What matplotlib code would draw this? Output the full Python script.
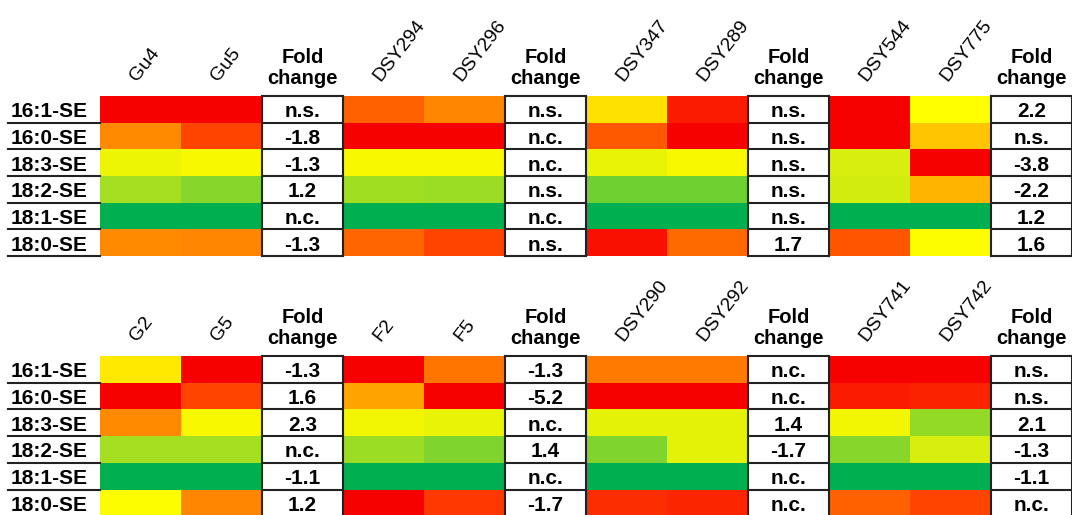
#!/usr/bin/env python3
"""
Heat map of steryl ester species per strain pair, with fold change boxes.
Two panels (top / bottom), each with 4 strain pairs.
"""

import numpy as np
import matplotlib.pyplot as plt
from matplotlib.colors import LinearSegmentedColormap

plt.rcParams['font.family'] = ['Liberation Sans', 'DejaVu Sans']

# Row labels (lipid species)
species = ['16:1-SE', '16:0-SE', '18:3-SE', '18:2-SE', '18:1-SE', '18:0-SE']

# Top panel: strain pairs, relative levels (0 = low/green, 1 = high/red)
top_pairs = [('Gu4', 'Gu5'), ('DSY294', 'DSY296'), ('DSY347', 'DSY289'), ('DSY544', 'DSY775')]
gu4 = [1.0, 0.75, 0.48, 0.32, 0.0, 0.75]
gu5 = [1.0, 0.88, 0.50, 0.25, 0.0, 0.76]
dsy294 = [0.83, 1.0, 0.50, 0.31, 0.0, 0.82]
dsy296 = [0.76, 1.0, 0.50, 0.30, 0.0, 0.88]
dsy347 = [0.60, 0.84, 0.47, 0.21, 0.0, 0.97]
dsy289 = [0.95, 1.0, 0.50, 0.21, 0.0, 0.81]
dsy544 = [1.0, 1.0, 0.43, 0.42, 0.0, 0.85]
dsy775 = [0.53, 0.65, 1.0, 0.68, 0.0, 0.52]
top_fold = [
    ['n.s.', '-1.8', '-1.3', '1.2', 'n.c.', '-1.3'],
    ['n.s.', 'n.c.', 'n.c.', 'n.s.', 'n.c.', 'n.s.'],
    ['n.s.', 'n.s.', 'n.s.', 'n.s.', 'n.s.', '1.7'],
    ['2.2', 'n.s.', '-3.8', '-2.2', '1.2', '1.6'],
]

# Bottom panel
bottom_pairs = [('G2', 'G5'), ('F2', 'F5'), ('DSY290', 'DSY292'), ('DSY741', 'DSY742')]
g2 = [0.58, 1.0, 0.75, 0.32, 0.0, 0.52]
g5 = [1.0, 0.88, 0.50, 0.32, 0.0, 0.76]
f2 = [1.0, 0.71, 0.49, 0.30, 0.0, 1.0]
f5 = [0.79, 1.0, 0.47, 0.24, 0.0, 0.90]
dsy290 = [0.78, 1.0, 0.46, 0.24, 0.0, 0.92]
dsy292 = [0.78, 1.0, 0.46, 0.46, 0.0, 0.93]
dsy741 = [1.0, 0.95, 0.49, 0.25, 0.0, 0.83]
dsy742 = [1.0, 0.94, 0.28, 0.43, 0.0, 0.88]
bottom_fold = [
    ['-1.3', '1.6', '2.3', 'n.c.', '-1.1', '1.2'],
    ['-1.3', '-5.2', 'n.c.', '1.4', 'n.c.', '-1.7'],
    ['n.c.', 'n.c.', '1.4', '-1.7', 'n.c.', 'n.c.'],
    ['n.s.', 'n.s.', '2.1', '-1.3', '-1.1', 'n.c.'],
]

top_values = [(gu4, gu5), (dsy294, dsy296), (dsy347, dsy289), (dsy544, dsy775)]
bottom_values = [(g2, g5), (f2, f5), (dsy290, dsy292), (dsy741, dsy742)]

# green -> yellow -> red
cmap = LinearSegmentedColormap.from_list('gyr', [
    (0.00, '#00b050'), (0.25, '#86d62c'), (0.40, '#c8ea14'), (0.50, '#f7f700'),
    (0.53, '#ffff00'), (0.62, '#ffd800'), (0.75, '#ff8c00'), (0.88, '#ff4500'),
    (1.00, '#f70000')])
cmap.set_bad('white')

W, H = 1072, 515
fig = plt.figure(figsize=(W / 100, H / 100), dpi=100)


def draw_panel(top_px, pairs, values, folds):
    # axes in pixel space: x 100..1072, rows 26.7 px high
    row_h = 26.7
    ax = fig.add_axes([100 / W, 1 - (top_px + 6 * row_h) / H, 972 / W, 6 * row_h / H])
    n_rows = len(species)
    grid = np.full((n_rows, 12), np.nan)
    for g, (a, b) in enumerate(values):
        grid[:, 3 * g] = a
        grid[:, 3 * g + 1] = b
    ax.pcolormesh(np.arange(13), np.arange(n_rows + 1), np.ma.masked_invalid(grid),
                  cmap=cmap, vmin=0, vmax=1)
    ax.set_xlim(0, 12)
    ax.set_ylim(n_rows, 0)
    ax.axis('off')

    lw = 1.5
    base = 0.8  # text baseline inside a row
    for g, (s1, s2) in enumerate(pairs):
        # rotated strain names
        for k, name in enumerate([s1, s2]):
            ax.text(3 * g + k + 0.5, -0.45, name, rotation=52, rotation_mode='anchor',
                    ha='left', va='bottom', fontsize=14, clip_on=False)
        xf = 3 * g + 2
        ax.text(xf + 0.5, -0.3, 'Fold\nchange', ha='center', va='bottom',
                fontsize=14.5, fontweight='bold', linespacing=1.15, clip_on=False)
        # fold change box
        ax.plot([xf, xf], [0, n_rows], color='#222222', lw=lw, clip_on=False)
        ax.plot([xf + 1, xf + 1], [0, n_rows], color='#222222', lw=lw, clip_on=False)
        for r in range(n_rows + 1):
            ax.plot([xf, xf + 1], [r, r], color='#222222', lw=lw, clip_on=False)
        for r, txt in enumerate(folds[g]):
            ax.text(xf + 0.5, r + base, txt, ha='center', va='baseline',
                    fontsize=15, fontweight='bold', clip_on=False)

    # row labels with underline
    for r, lab in enumerate(species):
        ax.text(-1.1, r + base, lab, ha='left', va='baseline', fontsize=15,
                fontweight='bold', clip_on=False)
        ax.plot([-1.14, 0], [r + 1, r + 1], color='#222222', lw=lw, clip_on=False)
    return ax


draw_panel(96, top_pairs, top_values, top_fold)
draw_panel(356, bottom_pairs, bottom_values, bottom_fold)

plt.savefig('out.png', dpi=100)
plt.close()
print("saved out.png")
